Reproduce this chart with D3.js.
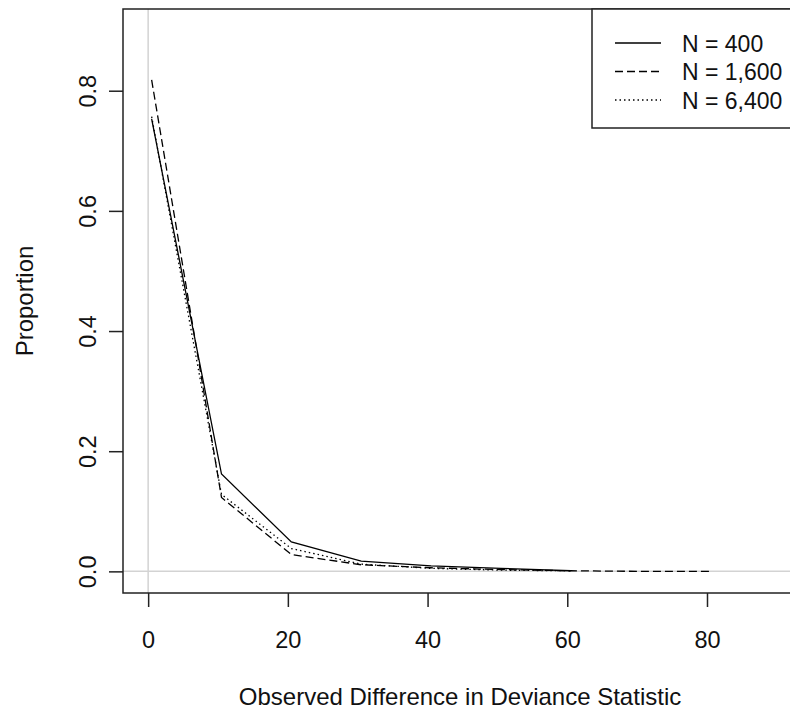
<!DOCTYPE html>
<html>
<head>
<meta charset="utf-8">
<script src="https://cdn.jsdelivr.net/npm/d3@7"></script>
<style>
  body { margin: 0; background: #fff; }
  text { font-family: "Liberation Sans", Arial, sans-serif; fill: #111; }
</style>
</head>
<body>
<div id="chart"></div>
<script>
// bin midpoints of the deviance difference
const diffs = [0.5, 10.5, 20.5, 30.5, 40.5, 50.5, 60.5, 70.5, 80.5];

// proportions per sample size
const n400 = [0.753, 0.162, 0.049, 0.017, 0.009, 0.005, 0.001];
const n1600 = [0.818, 0.123, 0.028, 0.011, 0.006, 0.003, 0.001, 0, 0];
const n6400 = [0.757, 0.128, 0.038, 0.012, 0.005, 0.002, 0.001];

const seriesNames = ["N = 400", "N = 1,600", "N = 6,400"];
const dashes = [null, "8,4", "1.5,3"];

const xTicks = [0, 20, 40, 60, 80];
const yTicks = [0, 0.2, 0.4, 0.6, 0.8];

const width = 790, height = 713;
const plotLeft = 123, plotRight = 802, plotTop = 9, plotBottom = 593;

const svg = d3.select("#chart")
    .append("svg")
    .attr("width", width)
    .attr("height", height);

// R style 4% padding on xlim = c(0, 90), ylim = c(0, 0.9)
const x = d3.scaleLinear().domain([-3.6, 93.6]).range([plotLeft, plotRight]);
const y = d3.scaleLinear().domain([-0.036, 0.936]).range([plotBottom, plotTop]);

svg.append("clipPath").attr("id", "plotArea")
    .append("rect")
    .attr("x", plotLeft).attr("y", plotTop)
    .attr("width", plotRight - plotLeft).attr("height", plotBottom - plotTop);

const plot = svg.append("g").attr("clip-path", "url(#plotArea)");

// reference lines at zero
plot.append("line")
    .attr("x1", x(0)).attr("x2", x(0))
    .attr("y1", plotTop).attr("y2", plotBottom)
    .attr("stroke", "#d3d3d3").attr("stroke-width", 1.5);
plot.append("line")
    .attr("x1", plotLeft).attr("x2", plotRight)
    .attr("y1", y(0)).attr("y2", y(0))
    .attr("stroke", "#d3d3d3").attr("stroke-width", 1.5);

const line = d3.line()
    .x(d => x(d[0]))
    .y(d => y(d[1]));

[n400, n1600, n6400].forEach((vals, i) => {
    plot.append("path")
        .datum(vals.map((v, j) => [diffs[j], v]))
        .attr("d", line)
        .attr("fill", "none")
        .attr("stroke", "#000")
        .attr("stroke-width", 1.3)
        .attr("stroke-dasharray", dashes[i]);
});

// axes
const xAxis = svg.append("g")
    .attr("transform", `translate(0,${plotBottom})`)
    .call(d3.axisBottom(x).tickValues(xTicks).tickSize(14).tickPadding(24).tickFormat(d3.format("d")));

const yAxis = svg.append("g")
    .attr("transform", `translate(${plotLeft},0)`)
    .call(d3.axisLeft(y).tickValues(yTicks).tickSize(14).tickFormat(d3.format(".1f")));

[xAxis, yAxis].forEach(g => {
    g.select(".domain").remove();
    g.selectAll(".tick line").attr("stroke", "#222").attr("stroke-width", 1.5);
    g.selectAll(".tick text").attr("font-size", 23.5).style("font-family", "Liberation Sans, Arial, sans-serif");
});

// y labels run parallel to the axis
yAxis.selectAll(".tick text")
    .attr("x", null).attr("dy", null)
    .attr("text-anchor", "middle")
    .attr("transform", "translate(-35,0) rotate(-90) translate(0,8)");

// box round the plot
svg.append("rect")
    .attr("x", plotLeft).attr("y", plotTop)
    .attr("width", plotRight - plotLeft).attr("height", plotBottom - plotTop)
    .attr("fill", "none")
    .attr("stroke", "#222")
    .attr("stroke-width", 1.5);

// titles
svg.append("text")
    .attr("x", 460)
    .attr("y", 705)
    .attr("text-anchor", "middle")
    .attr("font-size", 24)
    .text("Observed Difference in Deviance Statistic");

svg.append("text")
    .attr("transform", `translate(33,${(plotTop + plotBottom) / 2}) rotate(-90)`)
    .attr("text-anchor", "middle")
    .attr("font-size", 24)
    .text("Proportion");

// legend
const legend = svg.append("g");
legend.append("rect")
    .attr("x", 592).attr("y", plotTop)
    .attr("width", plotRight - 592).attr("height", 119)
    .attr("fill", "#fff")
    .attr("stroke", "#222")
    .attr("stroke-width", 1.5);

seriesNames.forEach((name, i) => {
    const ly = 43 + i * 28.5;
    legend.append("line")
        .attr("x1", 615).attr("x2", 661)
        .attr("y1", ly).attr("y2", ly)
        .attr("stroke", "#000")
        .attr("stroke-width", 1.3)
        .attr("stroke-dasharray", dashes[i]);
    legend.append("text")
        .attr("x", 682)
        .attr("y", ly + 8.5)
        .attr("font-size", 23)
        .text(name);
});
</script>
</body>
</html>
